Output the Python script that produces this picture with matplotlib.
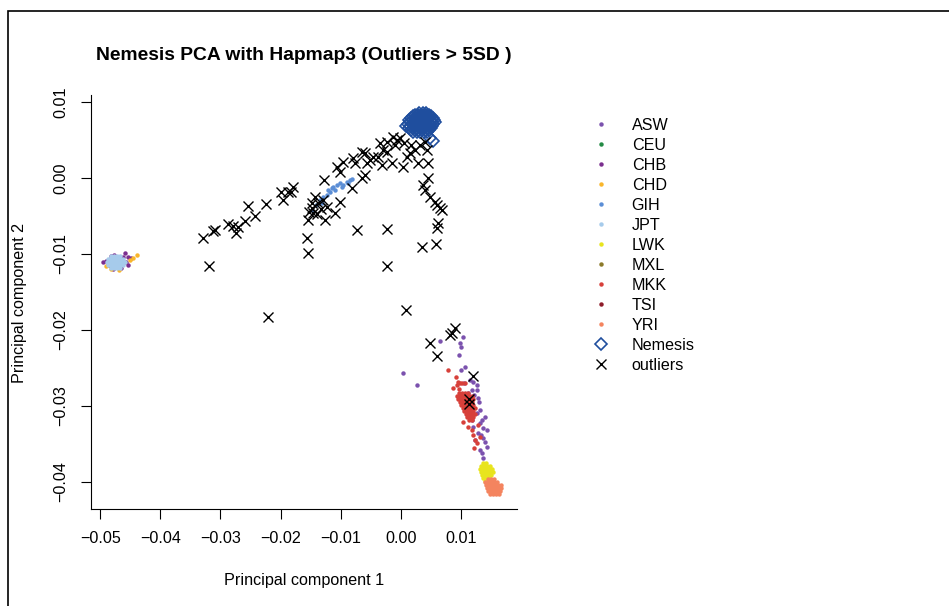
import matplotlib
matplotlib.use("Agg")
import matplotlib.pyplot as plt
from matplotlib.lines import Line2D
from matplotlib.patches import Rectangle

plt.rcParams['font.family'] = ['Liberation Sans', 'DejaVu Sans']

# ---- data (PC1, PC2) ----
pops = ['ASW', 'CEU', 'CHB', 'CHD', 'GIH', 'JPT', 'LWK', 'MXL', 'MKK', 'TSI', 'YRI']
pop_colors = ['#7B52AE', '#238B45', '#7B2F8F', '#F9B62B', '#5B8ED6', '#A6CBEB',
              '#E8E41E', '#8C7A2A', '#D7403A', '#8E1C2A', '#F4845F']

asw_x = [0.00982, 0.00994, 0.00971, 0.01066, 0.00994, 0.01204, 0.01260, 0.01177, 0.01260,
         0.01121, 0.01287, 0.01315, 0.01260, 0.01344, 0.01370, 0.01287, 0.01370, 0.01427,
         0.01344, 0.01370, 0.01315, 0.01232, 0.01204, 0.01177, 0.01149, 0.01049, 0.01399,
         0.01427, 0.01315, 0.01037, 0.00649, 0.00038, 0.00271, 0.01300, 0.01220, 0.01330, 0.01400]
asw_y = [-0.02175, -0.02220, -0.02329, -0.02483, -0.02526, -0.02680, -0.02724, -0.02789, -0.02789,
         -0.02833, -0.02899, -0.03053, -0.03096, -0.03184, -0.03293, -0.03359, -0.03425, -0.03536,
         -0.03622, -0.03688, -0.03228, -0.03447, -0.03272, -0.03184, -0.02658, -0.02701, -0.03141,
         -0.03316, -0.03579, -0.02088, -0.02145, -0.02562, -0.02724, -0.02950, -0.02860, -0.03380, -0.03480]

ceu_x = [0.0030, 0.0040, 0.0035]
ceu_y = [0.0075, 0.0070, 0.0080]

chb_x = [-0.04900, -0.04817, -0.04762, -0.04579, -0.04567, -0.04484, -0.04540, -0.04650,
         -0.04790, -0.04845, -0.04873, -0.04624, -0.04734, -0.04945, -0.04529]
chb_y = [-0.01088, -0.01026, -0.01013, -0.00991, -0.01101, -0.01057, -0.01145, -0.01188,
         -0.01201, -0.01145, -0.01122, -0.01036, -0.01175, -0.01105, -0.01039]

chd_x = [-0.04391, -0.04457, -0.04817, -0.04690, -0.04512, -0.04895]
chd_y = [-0.01013, -0.01049, -0.01201, -0.01211, -0.01079, -0.01158]

gih_x = [-0.01349, -0.01294, -0.01237, -0.01210, -0.01154, -0.01127, -0.01071, -0.01016, -0.00961,
         -0.00904, -0.00849, -0.00821, -0.01320, -0.01182, -0.01099, -0.00987, -0.00877, -0.01415, -0.01482]
gih_y = [-0.00289, -0.00246, -0.00224, -0.00158, -0.00136, -0.00114, -0.00092, -0.00070, -0.00092,
         -0.00049, -0.00026, -0.00017, -0.00333, -0.00180, -0.00158, -0.00114, -0.00070, -0.00355, -0.00421]

jpt_x = [-0.04812, -0.04762, -0.04712, -0.04662,
         -0.04862, -0.04812, -0.04762, -0.04712, -0.04662, -0.04612,
         -0.04878, -0.04829, -0.04779, -0.04729, -0.04679, -0.04629, -0.04579,
         -0.04862, -0.04812, -0.04762, -0.04712, -0.04662, -0.04612,
         -0.04812, -0.04762, -0.04712, -0.04662]
jpt_y = [-0.01026, -0.01026, -0.01026, -0.01026,
         -0.01066, -0.01066, -0.01066, -0.01066, -0.01066, -0.01066,
         -0.01105, -0.01105, -0.01105, -0.01105, -0.01105, -0.01105, -0.01105,
         -0.01145, -0.01145, -0.01145, -0.01145, -0.01145, -0.01145,
         -0.01184, -0.01184, -0.01184, -0.01184]

lwk_x = [0.01365, 0.01415,
         0.01332, 0.01382, 0.01432, 0.01482,
         0.01315, 0.01365, 0.01415, 0.01465, 0.01515,
         0.01332, 0.01382, 0.01432, 0.01482, 0.01532,
         0.01349, 0.01399, 0.01449, 0.01499,
         0.01365, 0.01415, 0.01465,
         0.01399, 0.01449]
lwk_y = [-0.03750, -0.03750,
         -0.03789, -0.03789, -0.03789, -0.03789,
         -0.03829, -0.03829, -0.03829, -0.03829, -0.03829,
         -0.03868, -0.03868, -0.03868, -0.03868, -0.03868,
         -0.03908, -0.03908, -0.03908, -0.03908,
         -0.03947, -0.03947, -0.03947,
         -0.03987, -0.03987]

mxl_x = [0.0020, 0.0028]
mxl_y = [0.0072, 0.0077]

mkk_x = [0.00966, 0.01016, 0.01066, 0.01116,
         0.00932, 0.00982, 0.01032, 0.01082, 0.01132, 0.01182,
         0.00949, 0.00999, 0.01049, 0.01099, 0.01149, 0.01199,
         0.00982, 0.01032, 0.01082, 0.01132, 0.01182,
         0.00999, 0.01049, 0.01099, 0.01149, 0.01199,
         0.01032, 0.01082, 0.01132, 0.01182, 0.01232,
         0.01049, 0.01099, 0.01149, 0.01199,
         0.01082, 0.01132, 0.01182, 0.01232,
         0.01099, 0.01149, 0.01199,
         0.01132, 0.01182,
         0.00788, 0.00916, 0.00954, 0.00982, 0.01011, 0.01066, 0.00937, 0.01027, 0.01177,
         0.01204, 0.01232, 0.01260, 0.01315, 0.00866, 0.00966, 0.01282, 0.01215, 0.01116]
mkk_y = [-0.02829, -0.02829, -0.02829, -0.02829,
         -0.02868, -0.02868, -0.02868, -0.02868, -0.02868, -0.02868,
         -0.02908, -0.02908, -0.02908, -0.02908, -0.02908, -0.02908,
         -0.02947, -0.02947, -0.02947, -0.02947, -0.02947,
         -0.02987, -0.02987, -0.02987, -0.02987, -0.02987,
         -0.03026, -0.03026, -0.03026, -0.03026, -0.03026,
         -0.03066, -0.03066, -0.03066, -0.03066,
         -0.03105, -0.03105, -0.03105, -0.03105,
         -0.03145, -0.03145, -0.03145,
         -0.03184, -0.03184,
         -0.02526, -0.02614, -0.02680, -0.02701, -0.02701, -0.02693, -0.02724, -0.03207, -0.03316,
         -0.03382, -0.03447, -0.03491, -0.03404, -0.02763, -0.02776, -0.03250, -0.03553, -0.03276]

tsi_x = [0.0025, 0.0033]
tsi_y = [0.0068, 0.0064]

yri_x = [0.01449, 0.01499, 0.01548,
         0.01399, 0.01449, 0.01499, 0.01548, 0.01598,
         0.01415, 0.01465, 0.01515, 0.01565, 0.01615, 0.01665,
         0.01432, 0.01482, 0.01532, 0.01582, 0.01632, 0.01665,
         0.01449, 0.01499, 0.01548, 0.01598, 0.01648,
         0.01482, 0.01532, 0.01582, 0.01632]
yri_y = [-0.03961, -0.03961, -0.03961,
         -0.04000, -0.04000, -0.04000, -0.04000, -0.04000,
         -0.04039, -0.04039, -0.04039, -0.04039, -0.04039, -0.04039,
         -0.04079, -0.04079, -0.04079, -0.04079, -0.04079, -0.04079,
         -0.04118, -0.04118, -0.04118, -0.04118, -0.04118,
         -0.04158, -0.04158, -0.04158, -0.04158]

pop_x = [asw_x, ceu_x, chb_x, chd_x, gih_x, jpt_x, lwk_x, mxl_x, mkk_x, tsi_x, yri_x]
pop_y = [asw_y, ceu_y, chb_y, chd_y, gih_y, jpt_y, lwk_y, mxl_y, mkk_y, tsi_y, yri_y]

nemesis_x = [0.0030, 0.0036, 0.0042,
             0.0023, 0.0029, 0.0035, 0.0041, 0.0047,
             0.0020, 0.0026, 0.0032, 0.0038, 0.0044, 0.0050,
             0.0017, 0.0023, 0.0029, 0.0035, 0.0041, 0.0047, 0.0053,
             0.0014, 0.0020, 0.0026, 0.0032, 0.0038, 0.0044, 0.0050, 0.0055,
             0.0015, 0.0021, 0.0027, 0.0033, 0.0039, 0.0045, 0.0051, 0.0056,
             0.0012, 0.0018, 0.0024, 0.0030, 0.0036, 0.0042, 0.0048, 0.0054,
             0.0015, 0.0021, 0.0027, 0.0033, 0.0039, 0.0045, 0.0051,
             0.0014, 0.0020, 0.0026, 0.0032, 0.0038, 0.0044, 0.0050,
             0.0017, 0.0023, 0.0029, 0.0035, 0.0041, 0.0047,
             0.0020, 0.0026, 0.0032, 0.0038, 0.0044,
             0.0053, 0.0048, 0.0009]
nemesis_y = [0.0086, 0.0086, 0.0086,
             0.00835, 0.00835, 0.00835, 0.00835, 0.00835,
             0.0081, 0.0081, 0.0081, 0.0081, 0.0081, 0.0081,
             0.00785, 0.00785, 0.00785, 0.00785, 0.00785, 0.00785, 0.00785,
             0.0076, 0.0076, 0.0076, 0.0076, 0.0076, 0.0076, 0.0076, 0.0076,
             0.00735, 0.00735, 0.00735, 0.00735, 0.00735, 0.00735, 0.00735, 0.00735,
             0.0071, 0.0071, 0.0071, 0.0071, 0.0071, 0.0071, 0.0071, 0.0071,
             0.00685, 0.00685, 0.00685, 0.00685, 0.00685, 0.00685, 0.00685,
             0.0066, 0.0066, 0.0066, 0.0066, 0.0066, 0.0066, 0.0066,
             0.00635, 0.00635, 0.00635, 0.00635, 0.00635, 0.00635,
             0.0061, 0.0061, 0.0061, 0.0061, 0.0061,
             0.0049, 0.0052, 0.0068]

outlier_x = [-0.03292, -0.03192, -0.03125, -0.03097, -0.02875, -0.02792, -0.02736, -0.02709, -0.02597,
             -0.02431, -0.02542, -0.02236, -0.01986, -0.01960, -0.01876, -0.01793, -0.01820, -0.01570,
             -0.01553, -0.01543, -0.01487, -0.01432, -0.01460, -0.01377, -0.01265, -0.01294, -0.01237,
             -0.01099, -0.01016, -0.01277, -0.01071, -0.01016, -0.00961, -0.00821, -0.00794, -0.00738,
             -0.00654, -0.00599, -0.00571, -0.00654, -0.00599, -0.00461, -0.00350, -0.00321, -0.00378,
             -0.00238, -0.00238, -0.00128, -0.00155, -0.00017, 0.00038, 0.00095, 0.00150, -0.00228,
             -0.00228, 0.00316, 0.00400, 0.00428, 0.00288, 0.00455, 0.00455, 0.00371, 0.00400,
             0.00483, 0.00566, 0.00594, 0.00649, 0.00621, 0.00594, 0.00345, 0.00583, -0.02214,
             0.00083, 0.00899, 0.00816, 0.00844, 0.00483, 0.00594, 0.01199, 0.01137, 0.01137,
             -0.00100, 0.00678, -0.01532, -0.01399, -0.01332, -0.01482, -0.00766, -0.00516, -0.00300,
             -0.00067, 0.00050, 0.00166, 0.00233]
outlier_y = [-0.00793, -0.01154, -0.00693, -0.00684, -0.00605, -0.00632, -0.00720, -0.00641, -0.00566,
             -0.00496, -0.00364, -0.00342, -0.00180, -0.00289, -0.00180, -0.00114, -0.00180, -0.00793,
             -0.00991, -0.00553, -0.00399, -0.00246, -0.00464, -0.00333, -0.00553, -0.00289, -0.00378,
             -0.00464, -0.00312, -0.00026, 0.00149, 0.00083, 0.00214, -0.00136, 0.00259, -0.00684,
             0.00346, 0.00325, 0.00193, -0.00004, 0.00039, 0.00280, 0.00457, 0.00171, 0.00280,
             0.00346, 0.00478, 0.00543, 0.00193, 0.00522, 0.00149, 0.00280, 0.00325, -0.00675,
             -0.01154, 0.00434, 0.00478, 0.00368, 0.00193, 0.00193, -0.00004, -0.00092, -0.00158,
             -0.00246, -0.00312, -0.00355, -0.00399, -0.00596, -0.00662, -0.00904, -0.00868, -0.01829,
             -0.01737, -0.01978, -0.02066, -0.02043, -0.02167, -0.02342, -0.02605, -0.02912, -0.02974,
             0.00434, -0.00421, -0.00447, -0.00474, -0.00408, -0.00329, 0.00197, 0.00237, 0.00368,
             0.00500, 0.00461, 0.00434, 0.00368]

nemesis_color = '#1F4E9E'
base_fs = 11.6

fig = plt.figure(figsize=(9.49, 6.06), dpi=100)
ax = fig.add_axes([91 / 949, 1 - 509 / 606, (517 - 91) / 949, (509 - 95) / 606])

for xs, ys, col in zip(pop_x, pop_y, pop_colors):
    ax.plot(xs, ys, 'o', ms=3.2, mew=0, color=col, linestyle='none')

ax.plot(nemesis_x, nemesis_y, 'D', ms=6.5, mfc='none', mec=nemesis_color, mew=1.2, linestyle='none')
ax.plot(outlier_x, outlier_y, 'x', ms=7.5, mew=1.0, color='black', linestyle='none')

ax.set_xlim(-0.05152, 0.01928)
ax.set_ylim(-0.04355, 0.01092)
ax.set_xticks([-0.05, -0.04, -0.03, -0.02, -0.01, 0.00, 0.01])
ax.set_xticklabels(['\u22120.05', '\u22120.04', '\u22120.03', '\u22120.02', '\u22120.01', '0.00', '0.01'])
ax.set_yticks([-0.04, -0.03, -0.02, -0.01, 0.00, 0.01])
ax.set_yticklabels(['\u22120.04', '\u22120.03', '\u22120.02', '\u22120.01', '0.00', '0.01'], va='center')
ax.tick_params(axis='both', direction='out', length=7.5, width=0.8, labelsize=base_fs, pad=8)
ax.tick_params(axis='y', labelrotation=90, pad=9)
ax.spines['top'].set_visible(False)
ax.spines['right'].set_visible(False)
for s in ['left', 'bottom']:
    ax.spines[s].set_linewidth(0.8)

fig.text(304 / 949, 1 - 55 / 606, 'Nemesis PCA with Hapmap3 (Outliers > 5SD )',
         ha='center', va='center', fontsize=13.9, fontweight='bold')
fig.text(304 / 949, 1 - 580 / 606, 'Principal component 1', ha='center', va='center', fontsize=base_fs)
fig.text(20 / 949, 1 - 303 / 606, 'Principal component 2', ha='center', va='center',
         rotation=90, fontsize=base_fs)

# legend
handles = [Line2D([], [], marker='o', ms=3.2, mew=0, color=c, linestyle='none') for c in pop_colors]
handles.append(Line2D([], [], marker='D', ms=6.5, mfc='none', mec=nemesis_color, mew=1.2, linestyle='none'))
handles.append(Line2D([], [], marker='x', ms=7.5, mew=1.0, color='black', linestyle='none'))
labels = pops + ['Nemesis', 'outliers']
fig.legend(handles, labels, loc='upper left', bbox_to_anchor=(593 / 949, 1 - 118 / 606),
           frameon=False, fontsize=base_fs, handlelength=1.0, handletextpad=1.4,
           labelspacing=0.31, borderpad=0, borderaxespad=0)

# outer frame
fig.add_artist(Rectangle((8 / 949, -0.1), 1.2, 1.1 - 11 / 606, transform=fig.transFigure,
                         fill=False, lw=1.2, edgecolor='black'))

fig.savefig('out.png', dpi=100)
